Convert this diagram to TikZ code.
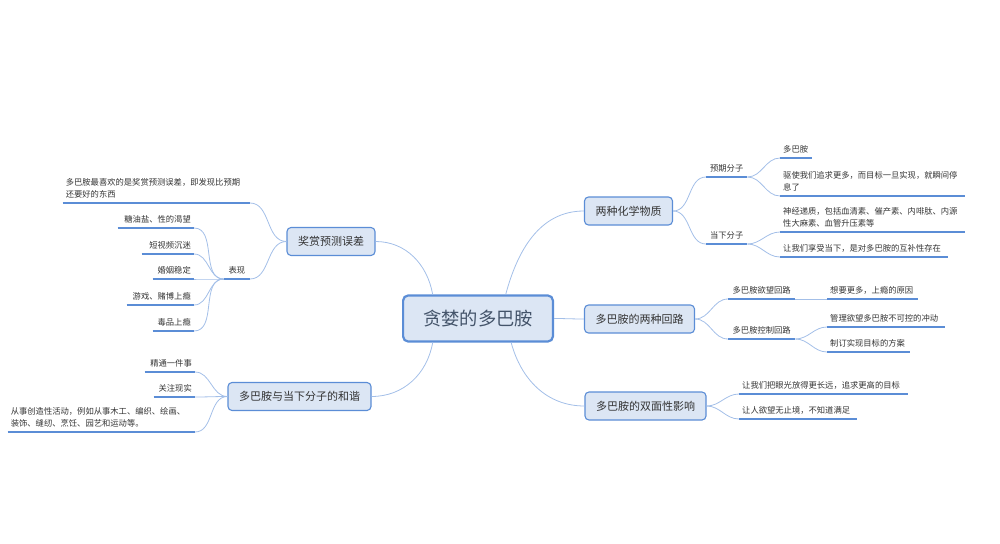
\documentclass[tikz,border=0pt]{standalone}
\usepackage{fontspec}
\setmainfont{Noto Sans CJK SC}
\usepackage{xcolor}
\usepackage{tikz}
\usetikzlibrary{positioning,calc}
\definecolor{mapblue}{HTML}{5B8DD6}
\definecolor{mapfill}{HTML}{DCE6F4}
\definecolor{mapline}{HTML}{A3BFE8}
\definecolor{maptext}{HTML}{333333}
\definecolor{roottext}{HTML}{44546A}
\newcommand{\leaffont}{\fontsize{8.3}{12}\selectfont}

\begin{document}
\begin{tikzpicture}[
			x=1pt, y=-1pt,
			root/.style={rectangle, draw=mapblue, line width=2.2pt, fill=mapfill, rounded corners=5pt, inner xsep=20pt, minimum height=46pt, text=roottext, font=\fontsize{18.3}{20}\selectfont},
			topic/.style={rectangle, draw=mapblue, line width=1.1pt, fill=mapfill, rounded corners=4pt, inner xsep=11pt, minimum height=28pt, text=maptext, font=\fontsize{11}{13}\selectfont},
			leafr/.style={anchor=south west, inner xsep=3pt, inner ysep=4.5pt, align=left, text=maptext, font=\leaffont},
			leafl/.style={leafr, anchor=south east, align=right},
			link/.style={draw=mapline, line width=0.8pt},
			uline/.style={draw=mapblue, line width=1.8pt}
			]
			\useasboundingbox (0,0) rectangle (1000,543);
			
			% Central topic
			\node[root] (root) at (478,318.5) {贪婪的多巴胺};
			
			% Main topics
			\node[topic] (reward) at (331,241.5) {奖赏预测误差};
			\node[topic] (harmony) at (299.5,396.5) {多巴胺与当下分子的和谐};
			\node[topic] (chem) at (628.5,211) {两种化学物质};
			\node[topic] (loop) at (639.5,319) {多巴胺的两种回路};
			\node[topic] (dual) at (645.5,406) {多巴胺的双面性影响};
			
			\draw[link] (root.152) to[out=100, in=0] (reward.east);
			\draw[link] (root.-152) to[out=-100, in=0] (harmony.east);
			\draw[link] (root.41) to[out=75, in=180] (chem.west);
			\draw[link] (root.east) to[out=0, in=180] (loop.west);
			\draw[link] (root.-36) to[out=-75, in=180] (dual.west);
			
			% Reward prediction error
			\node[leafl, text width=181pt, align=left] (rpe) at (250,203) {多巴胺最喜欢的是奖赏预测误差，即发现比预期\\还要好的东西};
			\node[leafl, text width=20pt, align=center] (show) at (250,279) {表现};
			\node[leafl, text width=70pt] (sugar) at (194,228) {糖油盐、性的渴望};
			\node[leafl, text width=46pt] (video) at (194,254) {短视频沉迷};
			\node[leafl, text width=35pt] (marry) at (194,279) {婚姻稳定};
			\node[leafl, text width=61pt] (game) at (194,305) {游戏、赌博上瘾};
			\node[leafl, text width=35pt] (drug) at (194,331) {毒品上瘾};
			
			\draw[link] (reward.west) to[out=180, in=0] (rpe.south east);
			\draw[link] (reward.west) to[out=180, in=0] (show.south east);
			\foreach \n in {sugar,video,marry,game,drug}
				\draw[link] (show.south west) to[out=180, in=0] (\n.south east);
			
			% Harmony with here-and-now molecules
			\node[leafl, text width=44pt] (master) at (195,372) {精通一件事};
			\node[leafl, text width=35pt] (real) at (195,397) {关注现实};
			\node[leafl, text width=181pt, align=left] (create) at (195,432) {从事创造性活动，例如从事木工、编织、绘画、\\装饰、缝纫、烹饪、园艺和运动等。};
			
			\foreach \n in {master,real,create}
				\draw[link] (harmony.west) to[out=180, in=0] (\n.south east);
			
			% Two chemicals
			\node[leafr, text width=35pt, align=center] (expect) at (706,177) {预期分子};
			\node[leafr, text width=35pt, align=center] (here) at (706,244) {当下分子};
			\node[leafr, text width=26pt] (dopa) at (780,158) {多巴胺};
			\node[leafr, text width=179pt] (drive) at (780,196) {驱使我们追求更多，而目标一旦实现，就瞬间停\\息了};
			\node[leafr, text width=179pt] (neuro) at (780,232) {神经递质，包括血清素、催产素、内啡肽、内源\\性大麻素、血管升压素等};
			\node[leafr, text width=162pt] (enjoy) at (780,257) {让我们享受当下，是对多巴胺的互补性存在};
			
			\draw[link] (chem.east) to[out=0, in=180] (expect.south west);
			\draw[link] (chem.east) to[out=0, in=180] (here.south west);
			\draw[link] (expect.south east) to[out=0, in=180] (dopa.south west);
			\draw[link] (expect.south east) to[out=0, in=180] (drive.south west);
			\draw[link] (here.south east) to[out=0, in=180] (neuro.south west);
			\draw[link] (here.south east) to[out=0, in=180] (enjoy.south west);
			
			% Two circuits
			\node[leafr, text width=61pt, align=center] (want) at (728,299) {多巴胺欲望回路};
			\node[leafr, text width=61pt, align=center] (ctrl) at (728,339) {多巴胺控制回路};
			\node[leafr, text width=85pt] (more) at (827,299) {想要更多，上瘾的原因};
			\node[leafr, text width=112pt] (manage) at (827,327) {管理欲望多巴胺不可控的冲动};
			\node[leafr, text width=77pt] (plan) at (827,352) {制订实现目标的方案};
			
			\draw[link] (loop.east) to[out=0, in=180] (want.south west);
			\draw[link] (loop.east) to[out=0, in=180] (ctrl.south west);
			\draw[link] (want.south east) -- (more.south west);
			\draw[link] (ctrl.south east) to[out=0, in=180] (manage.south west);
			\draw[link] (ctrl.south east) to[out=0, in=180] (plan.south west);
			
			% Two-sided effect
			\node[leafr, text width=163pt] (far) at (739,394) {让我们把眼光放得更长远，追求更高的目标};
			\node[leafr, text width=112pt] (endless) at (739,419) {让人欲望无止境，不知道满足};
			
			\draw[link] (dual.east) to[out=0, in=180] (far.south west);
			\draw[link] (dual.east) to[out=0, in=180] (endless.south west);
			
			% Underlines
			\foreach \n in {rpe,show,sugar,video,marry,game,drug,master,real,create,expect,here,dopa,drive,neuro,enjoy,want,ctrl,more,manage,plan,far,endless}
				\draw[uline] (\n.south west) -- (\n.south east);
			
		\end{tikzpicture}
\end{document}
